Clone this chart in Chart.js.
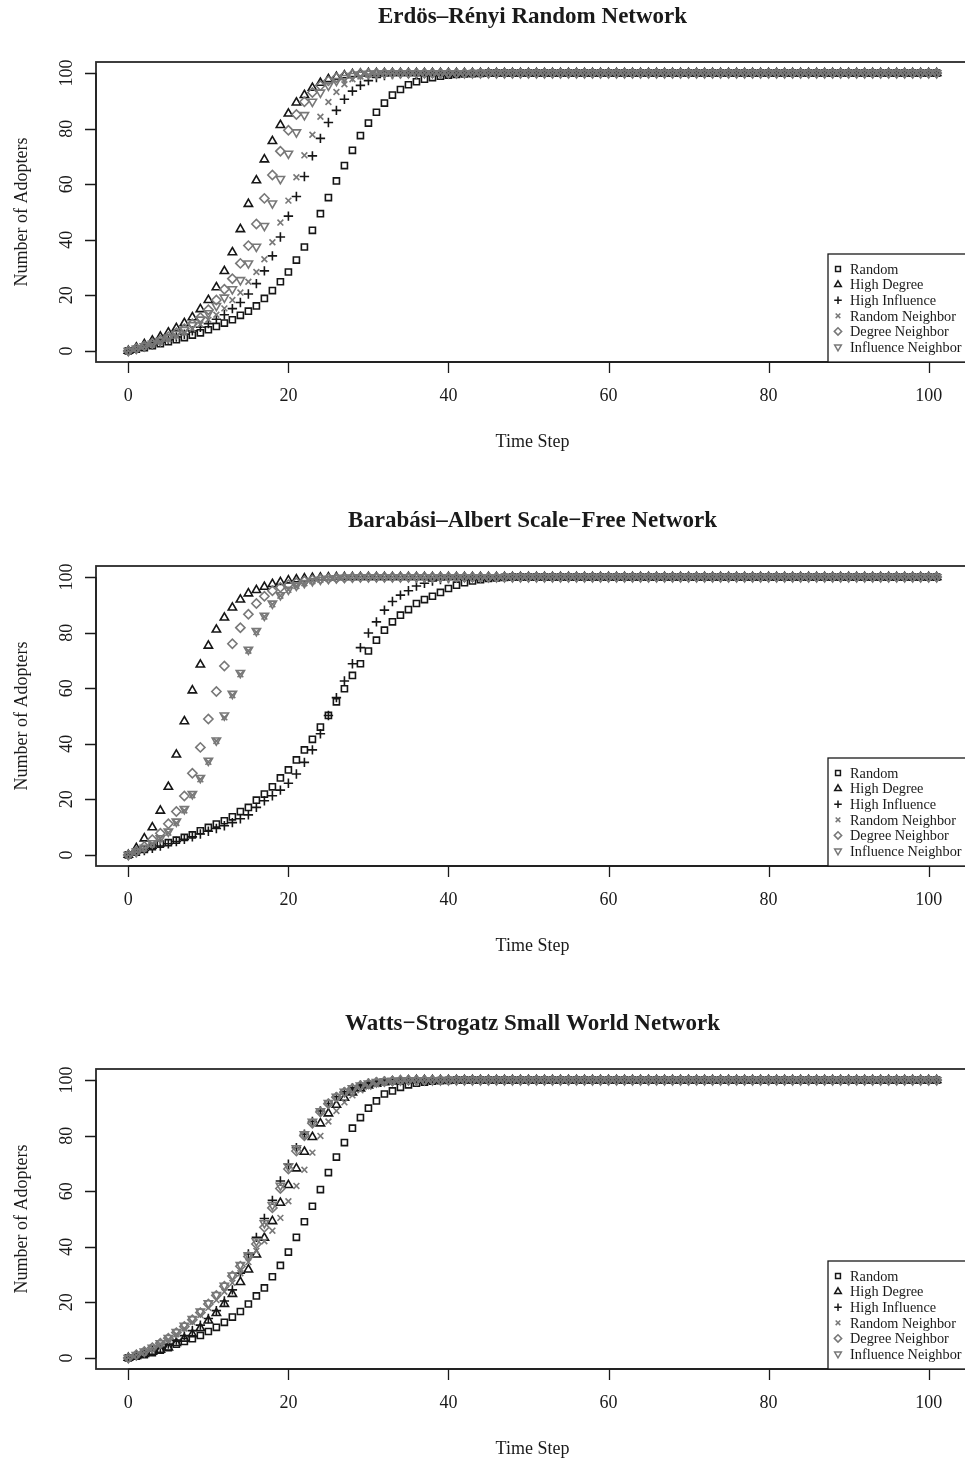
<!DOCTYPE html>
<html>
<head>
<meta charset="utf-8">
<script src="https://cdn.jsdelivr.net/npm/chart.js@4.4.1/dist/chart.umd.min.js"></script>
<style>
  html, body { margin: 0; padding: 0; background: #fff; overflow: hidden; width: 965px; height: 1460px; }
  .panel { position: absolute; left: 0; width: 980px; height: 504px; }
</style>
</head>
<body>
<div class="panel" style="top:0px"><canvas id="er" width="980" height="504"></canvas></div>
<div class="panel" style="top:504px"><canvas id="ba" width="980" height="504"></canvas></div>
<div class="panel" style="top:1007px"><canvas id="ws" width="980" height="504"></canvas></div>
<script>
// time steps 0..101
const timeSteps = [
  0, 1, 2, 3, 4, 5, 6, 7, 8, 9,
  10, 11, 12, 13, 14, 15, 16, 17, 18, 19,
  20, 21, 22, 23, 24, 25, 26, 27, 28, 29,
  30, 31, 32, 33, 34, 35, 36, 37, 38, 39,
  40, 41, 42, 43, 44, 45, 46, 47, 48, 49,
  50, 51, 52, 53, 54, 55, 56, 57, 58, 59,
  60, 61, 62, 63, 64, 65, 66, 67, 68, 69,
  70, 71, 72, 73, 74, 75, 76, 77, 78, 79,
  80, 81, 82, 83, 84, 85, 86, 87, 88, 89,
  90, 91, 92, 93, 94, 95, 96, 97, 98, 99,
  100, 101
];
const xTicks = [0, 20, 40, 60, 80, 100];
const yTicks = [0, 20, 40, 60, 80, 100];
const seriesNames = ['Random', 'High Degree', 'High Influence', 'Random Neighbor', 'Degree Neighbor', 'Influence Neighbor'];
const panelTitles = ['Erdös–Rényi Random Network', 'Barabási–Albert Scale−Free Network', 'Watts−Strogatz Small World Network'];

// Erdos-Renyi
const erRandom = [
  0, 0.6, 1.2, 1.9, 2.6, 3.3, 4, 4.8, 5.7, 6.5,
  7.6, 8.8, 10, 11.2, 12.8, 14.3, 16.2, 18.9, 21.7, 24.9,
  28.4, 32.7, 37.4, 43.4, 49.4, 55.2, 61.2, 66.7, 72.2, 77.5,
  82, 85.9, 89.2, 92.1, 94.1, 95.8, 96.9, 97.8, 98.4, 98.9,
  99.3, 99.5, 99.7, 99.8, 99.9, 100, 100, 100, 100, 100,
  100, 100, 100, 100, 100, 100, 100, 100, 100, 100,
  100, 100, 100, 100, 100, 100, 100, 100, 100, 100,
  100, 100, 100, 100, 100, 100, 100, 100, 100, 100,
  100, 100, 100, 100, 100, 100, 100, 100, 100, 100,
  100, 100, 100, 100, 100, 100, 100, 100, 100, 100,
  100, 100
];
const erHighDegree = [
  0, 1.2, 2.4, 3.7, 5.1, 6.6, 8.2, 10, 12.1, 15,
  18.3, 22.9, 28.7, 35.5, 43.8, 52.9, 61.4, 68.9, 75.5, 81.3,
  85.4, 89.4, 92.1, 94.7, 96.5, 97.8, 98.6, 99.2, 99.6, 99.8,
  100, 100, 100, 100, 100, 100, 100, 100, 100, 100,
  100, 100, 100, 100, 100, 100, 100, 100, 100, 100,
  100, 100, 100, 100, 100, 100, 100, 100, 100, 100,
  100, 100, 100, 100, 100, 100, 100, 100, 100, 100,
  100, 100, 100, 100, 100, 100, 100, 100, 100, 100,
  100, 100, 100, 100, 100, 100, 100, 100, 100, 100,
  100, 100, 100, 100, 100, 100, 100, 100, 100, 100,
  100, 100
];
const erHighInfluence = [
  0, 0.7, 1.4, 2.2, 3.1, 4, 5, 6, 7.2, 8.5,
  9.8, 11.4, 13, 15.2, 17.4, 20.5, 24.2, 28.8, 34.2, 41,
  48.5, 55.6, 62.8, 70.2, 76.5, 82.2, 86.6, 90.6, 93.5, 95.6,
  97.3, 98.4, 99.1, 99.5, 99.8, 99.9, 100, 100, 100, 100,
  100, 100, 100, 100, 100, 100, 100, 100, 100, 100,
  100, 100, 100, 100, 100, 100, 100, 100, 100, 100,
  100, 100, 100, 100, 100, 100, 100, 100, 100, 100,
  100, 100, 100, 100, 100, 100, 100, 100, 100, 100,
  100, 100, 100, 100, 100, 100, 100, 100, 100, 100,
  100, 100, 100, 100, 100, 100, 100, 100, 100, 100,
  100, 100
];
const erRandomNeighbor = [
  0, 0.7, 1.5, 2.3, 3.3, 4.3, 5.4, 6.6, 8, 9.5,
  11.2, 13, 15.3, 18.3, 21, 24.9, 28.4, 33, 39.1, 46.2,
  54.1, 62.5, 70.4, 77.8, 84.3, 89.6, 93.2, 96, 97.8, 98.8,
  99.4, 99.7, 99.9, 100, 100, 100, 100, 100, 100, 100,
  100, 100, 100, 100, 100, 100, 100, 100, 100, 100,
  100, 100, 100, 100, 100, 100, 100, 100, 100, 100,
  100, 100, 100, 100, 100, 100, 100, 100, 100, 100,
  100, 100, 100, 100, 100, 100, 100, 100, 100, 100,
  100, 100, 100, 100, 100, 100, 100, 100, 100, 100,
  100, 100, 100, 100, 100, 100, 100, 100, 100, 100,
  100, 100
];
const erDegreeNeighbor = [
  0, 0.9, 1.8, 2.8, 3.9, 5.1, 6.5, 8, 9.8, 12,
  14.8, 18.3, 22.2, 26, 31.5, 37.9, 45.7, 54.9, 63.3, 71.9,
  79.4, 85.1, 89.7, 93, 95.5, 97.2, 98.3, 99, 99.5, 99.8,
  99.9, 100, 100, 100, 100, 100, 100, 100, 100, 100,
  100, 100, 100, 100, 100, 100, 100, 100, 100, 100,
  100, 100, 100, 100, 100, 100, 100, 100, 100, 100,
  100, 100, 100, 100, 100, 100, 100, 100, 100, 100,
  100, 100, 100, 100, 100, 100, 100, 100, 100, 100,
  100, 100, 100, 100, 100, 100, 100, 100, 100, 100,
  100, 100, 100, 100, 100, 100, 100, 100, 100, 100,
  100, 100
];
const erInfluenceNeighbor = [
  0, 0.8, 1.7, 2.6, 3.6, 4.8, 6.1, 7.6, 9.3, 11.3,
  13.6, 16.2, 19.2, 22.2, 25.5, 31.5, 37.5, 45, 53.1, 61.9,
  71, 78.7, 84.9, 89.7, 93, 95.5, 97.2, 98.3, 99, 99.5,
  99.8, 99.9, 100, 100, 100, 100, 100, 100, 100, 100,
  100, 100, 100, 100, 100, 100, 100, 100, 100, 100,
  100, 100, 100, 100, 100, 100, 100, 100, 100, 100,
  100, 100, 100, 100, 100, 100, 100, 100, 100, 100,
  100, 100, 100, 100, 100, 100, 100, 100, 100, 100,
  100, 100, 100, 100, 100, 100, 100, 100, 100, 100,
  100, 100, 100, 100, 100, 100, 100, 100, 100, 100,
  100, 100
];

// Barabasi-Albert
const baRandom = [
  0, 1, 2, 3, 3.9, 4.4, 5.3, 6.3, 7.2, 8.7,
  9.9, 11.1, 12.3, 13.7, 15.6, 17.1, 19.7, 21.9, 24.5, 27.7,
  30.6, 34.2, 37.8, 41.6, 46, 50.2, 55.1, 59.8, 64.6, 68.8,
  73.4, 77.3, 80.9, 83.9, 86.3, 88.3, 90.5, 91.9, 93.1, 94.5,
  95.9, 97.1, 98, 98.6, 99.1, 99.5, 99.7, 99.9, 100, 100,
  100, 100, 100, 100, 100, 100, 100, 100, 100, 100,
  100, 100, 100, 100, 100, 100, 100, 100, 100, 100,
  100, 100, 100, 100, 100, 100, 100, 100, 100, 100,
  100, 100, 100, 100, 100, 100, 100, 100, 100, 100,
  100, 100, 100, 100, 100, 100, 100, 100, 100, 100,
  100, 100
];
const baHighDegree = [
  0, 2.4, 5.9, 9.9, 15.9, 24.5, 36.1, 48.1, 59.2, 68.5,
  75.3, 81.1, 85.4, 89, 91.9, 94.1, 95.3, 96.5, 97.5, 98.2,
  98.8, 99.2, 99.5, 99.7, 99.8, 99.9, 100, 100, 100, 100,
  100, 100, 100, 100, 100, 100, 100, 100, 100, 100,
  100, 100, 100, 100, 100, 100, 100, 100, 100, 100,
  100, 100, 100, 100, 100, 100, 100, 100, 100, 100,
  100, 100, 100, 100, 100, 100, 100, 100, 100, 100,
  100, 100, 100, 100, 100, 100, 100, 100, 100, 100,
  100, 100, 100, 100, 100, 100, 100, 100, 100, 100,
  100, 100, 100, 100, 100, 100, 100, 100, 100, 100,
  100, 100
];
const baHighInfluence = [
  0, 0.8, 1.6, 2.4, 3.2, 4, 4.8, 5.6, 6.5, 7.5,
  8.5, 9.5, 10.5, 11.6, 13, 14.4, 17.1, 19.5, 21.3, 23.3,
  25.8, 29.1, 33.3, 37.8, 43.6, 50.2, 56.6, 62.6, 68.8, 74.6,
  79.9, 83.9, 88.1, 91.2, 93.5, 95.1, 96.8, 97.8, 98.6, 99.1,
  99.5, 99.7, 99.9, 100, 100, 100, 100, 100, 100, 100,
  100, 100, 100, 100, 100, 100, 100, 100, 100, 100,
  100, 100, 100, 100, 100, 100, 100, 100, 100, 100,
  100, 100, 100, 100, 100, 100, 100, 100, 100, 100,
  100, 100, 100, 100, 100, 100, 100, 100, 100, 100,
  100, 100, 100, 100, 100, 100, 100, 100, 100, 100,
  100, 100
];
const baRandomNeighbor = [
  0, 1.1, 2.5, 4, 5.8, 8, 11.5, 16, 21.5, 27.2,
  33.5, 41, 49.5, 57.5, 65, 73.5, 80.2, 85.8, 90.2, 93.3,
  95.4, 96.8, 97.8, 98.5, 99, 99.4, 99.6, 99.8, 99.9, 100,
  100, 100, 100, 100, 100, 100, 100, 100, 100, 100,
  100, 100, 100, 100, 100, 100, 100, 100, 100, 100,
  100, 100, 100, 100, 100, 100, 100, 100, 100, 100,
  100, 100, 100, 100, 100, 100, 100, 100, 100, 100,
  100, 100, 100, 100, 100, 100, 100, 100, 100, 100,
  100, 100, 100, 100, 100, 100, 100, 100, 100, 100,
  100, 100, 100, 100, 100, 100, 100, 100, 100, 100,
  100, 100
];
const baDegreeNeighbor = [
  0, 1.3, 3, 5.5, 7.8, 11.2, 15.6, 21.2, 29.4, 38.7,
  48.9, 58.8, 68, 76, 81.8, 86.6, 90.5, 93.1, 95.1, 96.3,
  97.3, 98, 98.6, 99, 99.3, 99.5, 99.7, 99.8, 99.9, 100,
  100, 100, 100, 100, 100, 100, 100, 100, 100, 100,
  100, 100, 100, 100, 100, 100, 100, 100, 100, 100,
  100, 100, 100, 100, 100, 100, 100, 100, 100, 100,
  100, 100, 100, 100, 100, 100, 100, 100, 100, 100,
  100, 100, 100, 100, 100, 100, 100, 100, 100, 100,
  100, 100, 100, 100, 100, 100, 100, 100, 100, 100,
  100, 100, 100, 100, 100, 100, 100, 100, 100, 100,
  100, 100
];
const baInfluenceNeighbor = [
  0, 1.2, 2.6, 4.2, 6, 8.4, 12, 16.5, 21.9, 27.7,
  33.9, 41.2, 50.2, 58, 65.5, 73.9, 80.6, 86.1, 90.5, 93.5,
  95.5, 96.9, 97.9, 98.6, 99.1, 99.4, 99.6, 99.8, 99.9, 100,
  100, 100, 100, 100, 100, 100, 100, 100, 100, 100,
  100, 100, 100, 100, 100, 100, 100, 100, 100, 100,
  100, 100, 100, 100, 100, 100, 100, 100, 100, 100,
  100, 100, 100, 100, 100, 100, 100, 100, 100, 100,
  100, 100, 100, 100, 100, 100, 100, 100, 100, 100,
  100, 100, 100, 100, 100, 100, 100, 100, 100, 100,
  100, 100, 100, 100, 100, 100, 100, 100, 100, 100,
  100, 100
];

// Watts-Strogatz
const wsRandom = [
  0, 0.6, 1.2, 1.9, 2.8, 3.7, 4.9, 5.9, 6.9, 8.1,
  9.5, 11, 12.8, 14.7, 16.7, 19.4, 22.3, 25.2, 29.2, 33.3,
  38.1, 43.4, 49, 54.6, 60.6, 66.7, 72.3, 77.5, 82.7, 86.5,
  89.9, 92.5, 95, 96.1, 97.4, 98.3, 98.9, 99.3, 99.6, 99.8,
  99.9, 100, 100, 100, 100, 100, 100, 100, 100, 100,
  100, 100, 100, 100, 100, 100, 100, 100, 100, 100,
  100, 100, 100, 100, 100, 100, 100, 100, 100, 100,
  100, 100, 100, 100, 100, 100, 100, 100, 100, 100,
  100, 100, 100, 100, 100, 100, 100, 100, 100, 100,
  100, 100, 100, 100, 100, 100, 100, 100, 100, 100,
  100, 100
];
const wsHighDegree = [
  0, 0.7, 1.4, 2.2, 2.9, 3.7, 5.3, 6.9, 8.5, 10.7,
  13.4, 16.1, 19.4, 23, 27.3, 31.8, 37.2, 43.2, 49.2, 55.8,
  62.2, 68.2, 74.2, 79.5, 84.4, 88, 91.1, 93.6, 95.5, 97,
  98, 98.7, 99.2, 99.5, 99.8, 99.9, 100, 100, 100, 100,
  100, 100, 100, 100, 100, 100, 100, 100, 100, 100,
  100, 100, 100, 100, 100, 100, 100, 100, 100, 100,
  100, 100, 100, 100, 100, 100, 100, 100, 100, 100,
  100, 100, 100, 100, 100, 100, 100, 100, 100, 100,
  100, 100, 100, 100, 100, 100, 100, 100, 100, 100,
  100, 100, 100, 100, 100, 100, 100, 100, 100, 100,
  100, 100
];
const wsHighInfluence = [
  0, 0.8, 1.7, 2.7, 3.8, 5, 6.4, 8, 9.8, 11.8,
  14.2, 17, 20.5, 24.5, 30.5, 37.4, 43.4, 50.2, 56.7, 63.7,
  69.7, 75.7, 80.5, 85.1, 88.9, 91.6, 94, 95.8, 97.2, 98.2,
  98.9, 99.3, 99.6, 99.8, 99.9, 100, 100, 100, 100, 100,
  100, 100, 100, 100, 100, 100, 100, 100, 100, 100,
  100, 100, 100, 100, 100, 100, 100, 100, 100, 100,
  100, 100, 100, 100, 100, 100, 100, 100, 100, 100,
  100, 100, 100, 100, 100, 100, 100, 100, 100, 100,
  100, 100, 100, 100, 100, 100, 100, 100, 100, 100,
  100, 100, 100, 100, 100, 100, 100, 100, 100, 100,
  100, 100
];
const wsRandomNeighbor = [
  0, 1, 2.1, 3.4, 4.9, 6.6, 8.5, 10.6, 12.9, 15.4,
  18, 20.8, 23.8, 27, 30.5, 34.5, 38.5, 42, 45.8, 50.4,
  56.4, 61.9, 67.7, 73.9, 79.9, 85.1, 88.9, 92, 94.5, 96.3,
  97.6, 98.5, 99.1, 99.5, 99.7, 99.9, 100, 100, 100, 100,
  100, 100, 100, 100, 100, 100, 100, 100, 100, 100,
  100, 100, 100, 100, 100, 100, 100, 100, 100, 100,
  100, 100, 100, 100, 100, 100, 100, 100, 100, 100,
  100, 100, 100, 100, 100, 100, 100, 100, 100, 100,
  100, 100, 100, 100, 100, 100, 100, 100, 100, 100,
  100, 100, 100, 100, 100, 100, 100, 100, 100, 100,
  100, 100
];
const wsDegreeNeighbor = [
  0, 1.1, 2.3, 3.7, 5.3, 7.1, 9.1, 11.3, 13.7, 16.3,
  19.4, 22.5, 25.8, 29.5, 33, 36.5, 41, 47, 54, 61,
  68, 74.5, 80, 84.5, 88.5, 91.5, 93.8, 95.6, 97, 98,
  98.7, 99.2, 99.5, 99.7, 99.9, 100, 100, 100, 100, 100,
  100, 100, 100, 100, 100, 100, 100, 100, 100, 100,
  100, 100, 100, 100, 100, 100, 100, 100, 100, 100,
  100, 100, 100, 100, 100, 100, 100, 100, 100, 100,
  100, 100, 100, 100, 100, 100, 100, 100, 100, 100,
  100, 100, 100, 100, 100, 100, 100, 100, 100, 100,
  100, 100, 100, 100, 100, 100, 100, 100, 100, 100,
  100, 100
];
const wsInfluenceNeighbor = [
  0, 1.1, 2.3, 3.7, 5.3, 7.2, 9.3, 11.6, 14, 16.7,
  19.7, 22.7, 26, 29.7, 33.5, 37, 42, 48.5, 55, 62,
  69, 75.5, 80.5, 85, 88.8, 91.8, 94, 95.8, 97.1, 98.1,
  98.8, 99.3, 99.6, 99.8, 99.9, 100, 100, 100, 100, 100,
  100, 100, 100, 100, 100, 100, 100, 100, 100, 100,
  100, 100, 100, 100, 100, 100, 100, 100, 100, 100,
  100, 100, 100, 100, 100, 100, 100, 100, 100, 100,
  100, 100, 100, 100, 100, 100, 100, 100, 100, 100,
  100, 100, 100, 100, 100, 100, 100, 100, 100, 100,
  100, 100, 100, 100, 100, 100, 100, 100, 100, 100,
  100, 100
];

const BLACK = '#161616';
const GRAY = '#787878';
// marker look for each series, R pch 0,2,3,4,5,6
const markers = [
  { pointStyle: 'rect', rotation: 0, color: BLACK, radius: 4.3 },
  { pointStyle: 'triangle', rotation: 0, color: BLACK, radius: 4.8 },
  { pointStyle: 'cross', rotation: 0, color: BLACK, radius: 4.7 },
  { pointStyle: 'crossRot', rotation: 0, color: GRAY, radius: 4.1 },
  { pointStyle: 'rectRot', rotation: 0, color: GRAY, radius: 4.6 },
  { pointStyle: 'triangle', rotation: 180, color: GRAY, radius: 4.8 },
];

const FONT = '"Liberation Serif", "Times New Roman", serif';

const rFrame = {
  id: 'rFrame',
  afterDraw(chart, args, opts) {
    const { ctx, chartArea: a, scales: { x, y } } = chart;
    ctx.save();

    // plot box
    ctx.strokeStyle = '#2a2a2a';
    ctx.lineWidth = 1.8;
    ctx.strokeRect(a.left, a.top, a.right - a.left, a.bottom - a.top);

    // axes with ticks
    ctx.lineWidth = 1.3;
    ctx.strokeStyle = '#1a1a1a';
    ctx.beginPath();
    ctx.moveTo(x.getPixelForValue(xTicks[0]), a.bottom);
    ctx.lineTo(x.getPixelForValue(xTicks[xTicks.length - 1]), a.bottom);
    xTicks.forEach(v => {
      const px = Math.round(x.getPixelForValue(v)) + 0.5;
      ctx.moveTo(px, a.bottom);
      ctx.lineTo(px, a.bottom + 11);
    });
    ctx.moveTo(a.left, y.getPixelForValue(yTicks[0]));
    ctx.lineTo(a.left, y.getPixelForValue(yTicks[yTicks.length - 1]));
    yTicks.forEach(v => {
      const py = Math.round(y.getPixelForValue(v)) + 0.5;
      ctx.moveTo(a.left, py);
      ctx.lineTo(a.left - 11, py);
    });
    ctx.stroke();

    ctx.fillStyle = '#1a1a1a';
    ctx.font = '18px ' + FONT;
    ctx.textAlign = 'center';
    ctx.textBaseline = 'middle';
    xTicks.forEach(v => ctx.fillText(String(v), x.getPixelForValue(v), a.bottom + 34));
    ctx.fillText('Time Step', (a.left + a.right) / 2, a.bottom + 80);

    yTicks.forEach(v => {
      ctx.save();
      ctx.translate(67, y.getPixelForValue(v));
      ctx.rotate(-Math.PI / 2);
      ctx.fillText(String(v), 0, 0);
      ctx.restore();
    });
    ctx.save();
    ctx.translate(22, (a.top + a.bottom) / 2);
    ctx.rotate(-Math.PI / 2);
    ctx.fillText('Number of Adopters', 0, 0);
    ctx.restore();

    // title
    ctx.font = 'bold 23px ' + FONT;
    ctx.fillText(opts.title, (a.left + a.right) / 2, a.top - 45);

    // legend, bottom right corner of the plot
    const lx = 828, ly = a.bottom - 108, step = 15.6;
    ctx.fillStyle = '#fff';
    ctx.fillRect(lx, ly, a.right - lx, a.bottom - ly);
    ctx.strokeStyle = '#1a1a1a';
    ctx.lineWidth = 1.3;
    ctx.strokeRect(lx, ly, a.right - lx, a.bottom - ly);
    ctx.font = '14.3px ' + FONT;
    ctx.textAlign = 'left';
    seriesNames.forEach((name, i) => {
      const cy = ly + 15 + i * step;
      const m = markers[i];
      ctx.strokeStyle = m.color;
      ctx.fillStyle = 'rgba(0,0,0,0)';
      ctx.lineWidth = 1.5;
      Chart.helpers.drawPoint(ctx, { pointStyle: m.pointStyle, rotation: m.rotation, radius: m.radius * 0.8, borderWidth: 1.5 }, lx + 10, cy);
      ctx.fillStyle = '#1a1a1a';
      ctx.fillText(name, lx + 22, cy + 1);
    });
    ctx.restore();
  }
};

function makePanel(canvasId, title, seriesValues) {
  const datasets = seriesValues.map((vals, i) => ({
    label: seriesNames[i],
    data: vals.map((v, k) => ({ x: timeSteps[k], y: v })),
    pointStyle: markers[i].pointStyle,
    rotation: markers[i].rotation,
    pointRadius: markers[i].radius,
    borderColor: markers[i].color,
    backgroundColor: 'rgba(0,0,0,0)',
    pointBorderWidth: 1.6,
    showLine: false,
    order: seriesValues.length - i,
  }));
  return new Chart(document.getElementById(canvasId), {
    type: 'scatter',
    data: { datasets },
    options: {
      responsive: false,
      animation: false,
      devicePixelRatio: 1,
      events: [],
      layout: { padding: { left: 96, right: 11, top: 62, bottom: 142 } },
      scales: {
        x: { type: 'linear', min: -4.04, max: 105.04, display: false },
        y: { type: 'linear', min: -4, max: 104, display: false },
      },
      plugins: {
        legend: { display: false },
        tooltip: { enabled: false },
        rFrame: { title },
      },
    },
    plugins: [rFrame],
  });
}

makePanel('er', panelTitles[0], [erRandom, erHighDegree, erHighInfluence, erRandomNeighbor, erDegreeNeighbor, erInfluenceNeighbor]);
makePanel('ba', panelTitles[1], [baRandom, baHighDegree, baHighInfluence, baRandomNeighbor, baDegreeNeighbor, baInfluenceNeighbor]);
makePanel('ws', panelTitles[2], [wsRandom, wsHighDegree, wsHighInfluence, wsRandomNeighbor, wsDegreeNeighbor, wsInfluenceNeighbor]);
</script>
</body>
</html>
